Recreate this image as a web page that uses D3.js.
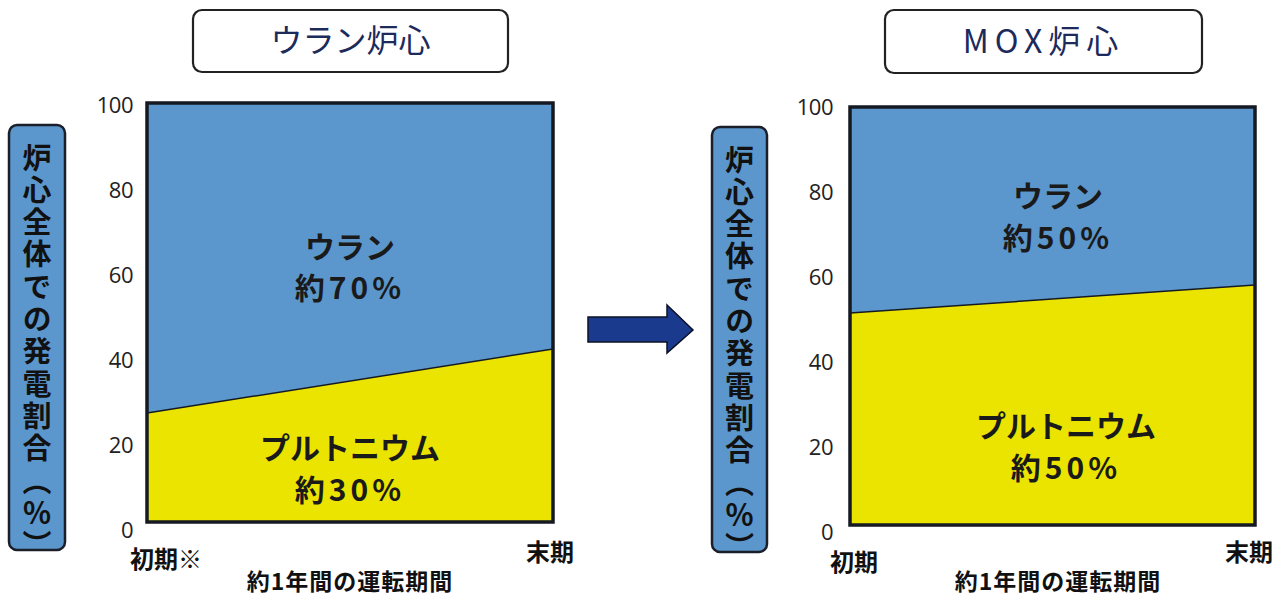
<!DOCTYPE html>
<html><head><meta charset="utf-8">
<script src="https://cdn.jsdelivr.net/npm/d3@7/dist/d3.min.js"></script>
<style>body{margin:0;background:#fff}svg{display:block}</style>
</head><body><svg id="c" width="1276" height="597"></svg>
<script>
// ---- data ----
const periodsUranium = ["初期※", "末期"];
const periodsMox = ["初期", "末期"];
const plutoniumUraniumCore = [26, 41.3];
const uraniumUraniumCore = [74, 58.7];
const plutoniumMoxCore = [50.7, 57.4];
const uraniumMoxCore = [49.3, 42.6];
const yTicks = [0, 20, 40, 60, 80, 100];
const yTitle = "炉心全体での発電割合（％）";
const xTitle = "約1年間の運転期間";

const BLUE = "#5b97cc", YELLOW = "#ebe400", DARK = "#151a22", NAVY = "#1c2a5c";
const JP = "'Noto Sans CJK JP','Noto Sans',sans-serif";
const svg = d3.select("#c");

const panels = [
  {title:"ウラン炉心", titleBox:[193,10,315,62], periods:periodsUranium, pu:plutoniumUraniumCore, u:uraniumUraniumCore,
   plot:[147,103,553,522], tickRange:[530,105], tickX:133, ybox:[9,125,56,425],
   uLabel:["ウラン","約70%"], uPos:[350,247,288], puLabel:["プルトニウム","約30%"], puPos:[350,448,490],
   xl:[130,560], xr:[574,553], xtitle:[350,582], spacing:0},
  {title:"MOX炉心", titleBox:[885,10,317,63], periods:periodsMox, pu:plutoniumMoxCore, u:uraniumMoxCore,
   plot:[850,107,1255,525], tickRange:[532,107], tickX:833, ybox:[712,127,55,425],
   uLabel:["ウラン","約50%"], uPos:[1058,196,238], puLabel:["プルトニウム","約50%"], puPos:[1066,426,468],
   xl:[830,563], xr:[1273,553], xtitle:[1058,582], spacing:6}
];

panels.forEach(p => {
  const [x0,y0,x1,y1] = p.plot;
  const x = d3.scalePoint().domain(p.periods).range([x0,x1]);
  const y = d3.scaleLinear().domain([0,100]).range([y1,y0]);
  const rows = p.periods.map((k,i)=>({period:k, pu:p.pu[i], u:p.u[i]}));
  const stack = d3.stack().keys(["pu","u"])(rows);
  const colors = {pu:YELLOW, u:BLUE};
  const area = d3.area().x(d=>x(d.data.period)).y0(d=>y(d[0])).y1(d=>y(d[1]));
  svg.append("g").selectAll("path").data(stack).join("path")
    .attr("d", area).attr("fill", d=>colors[d.key]);
  // boundary line
  svg.append("path").datum(rows)
    .attr("d", d3.line().x(d=>x(d.period)).y(d=>y(d.pu)))
    .attr("stroke", DARK).attr("stroke-width", 1.5).attr("fill","none");
  // frame
  svg.append("rect").attr("x",x0).attr("y",y0).attr("width",x1-x0).attr("height",y1-y0)
    .attr("fill","none").attr("stroke",DARK).attr("stroke-width",3.5);

  // y tick labels
  const yt = d3.scaleLinear().domain([0,100]).range(p.tickRange);
  const ax = svg.append("g").attr("transform",`translate(${p.tickX},0)`)
    .call(d3.axisLeft(yt).tickValues(yTicks).tickSize(0).tickPadding(0));
  ax.select(".domain").remove();
  ax.selectAll("text").attr("font-family","'Open Sans',sans-serif").attr("font-size",22).attr("fill","#222")
    .attr("letter-spacing",-0.5);

  // title box
  const [tx,ty,tw,th] = p.titleBox;
  svg.append("rect").attr("x",tx).attr("y",ty).attr("width",tw).attr("height",th).attr("rx",9)
    .attr("fill","#fff").attr("stroke","#222").attr("stroke-width",2.2);
  svg.append("text").attr("x",tx+tw/2).attr("y",ty+th/2+11).attr("text-anchor","middle")
    .attr("font-family",JP).attr("font-size",32).attr("fill",NAVY).attr("letter-spacing",p.spacing)
    .text(p.title);

  // y label box
  const [bx,by,bw,bh] = p.ybox;
  svg.append("rect").attr("x",bx).attr("y",by).attr("width",bw).attr("height",bh).attr("rx",8)
    .attr("fill",BLUE).attr("stroke","#1a1f2a").attr("stroke-width",2.5);
  svg.append("text").attr("x",bx+bw/2).attr("y",by+18)
    .style("writing-mode","vertical-rl")
    .attr("font-family",JP).attr("font-weight","bold").attr("font-size",29).attr("letter-spacing",3.3)
    .attr("fill","#111").text(yTitle);

  // in-area labels
  const lab = (lines,pos) => lines.forEach((t,i)=>{
    svg.append("text").attr("x",pos[0]).attr("y",pos[1+i]+11).attr("text-anchor","middle")
      .attr("font-family",JP).attr("font-weight","bold").attr("font-size",30).attr("fill","#1a1a1a")
      .attr("letter-spacing", i===1?4:0).text(t);
  });
  lab(p.uLabel,p.uPos); lab(p.puLabel,p.puPos);

  // x labels
  svg.append("text").attr("x",p.xl[0]).attr("y",p.xl[1]+8).attr("font-family",JP).attr("font-weight","bold")
    .attr("font-size",24).attr("fill","#111").text(p.periods[0]);
  svg.append("text").attr("x",p.xr[0]).attr("y",p.xr[1]+8).attr("text-anchor","end").attr("font-family",JP).attr("font-weight","bold")
    .attr("font-size",24).attr("fill","#111").text(p.periods[1]);
  svg.append("text").attr("x",p.xtitle[0]).attr("y",p.xtitle[1]+8).attr("text-anchor","middle").attr("font-family",JP).attr("font-weight","bold")
    .attr("font-size",23).attr("letter-spacing",1).attr("fill","#111").text(xTitle);
});

// arrow
svg.append("path")
  .attr("d","M588,317 L667,317 L667,305 L693,330 L667,353 L667,342 L588,342 Z")
  .attr("fill","#1a3a8e").attr("stroke","#0b1024").attr("stroke-width",1.5).attr("stroke-linejoin","miter");
</script></body></html>
